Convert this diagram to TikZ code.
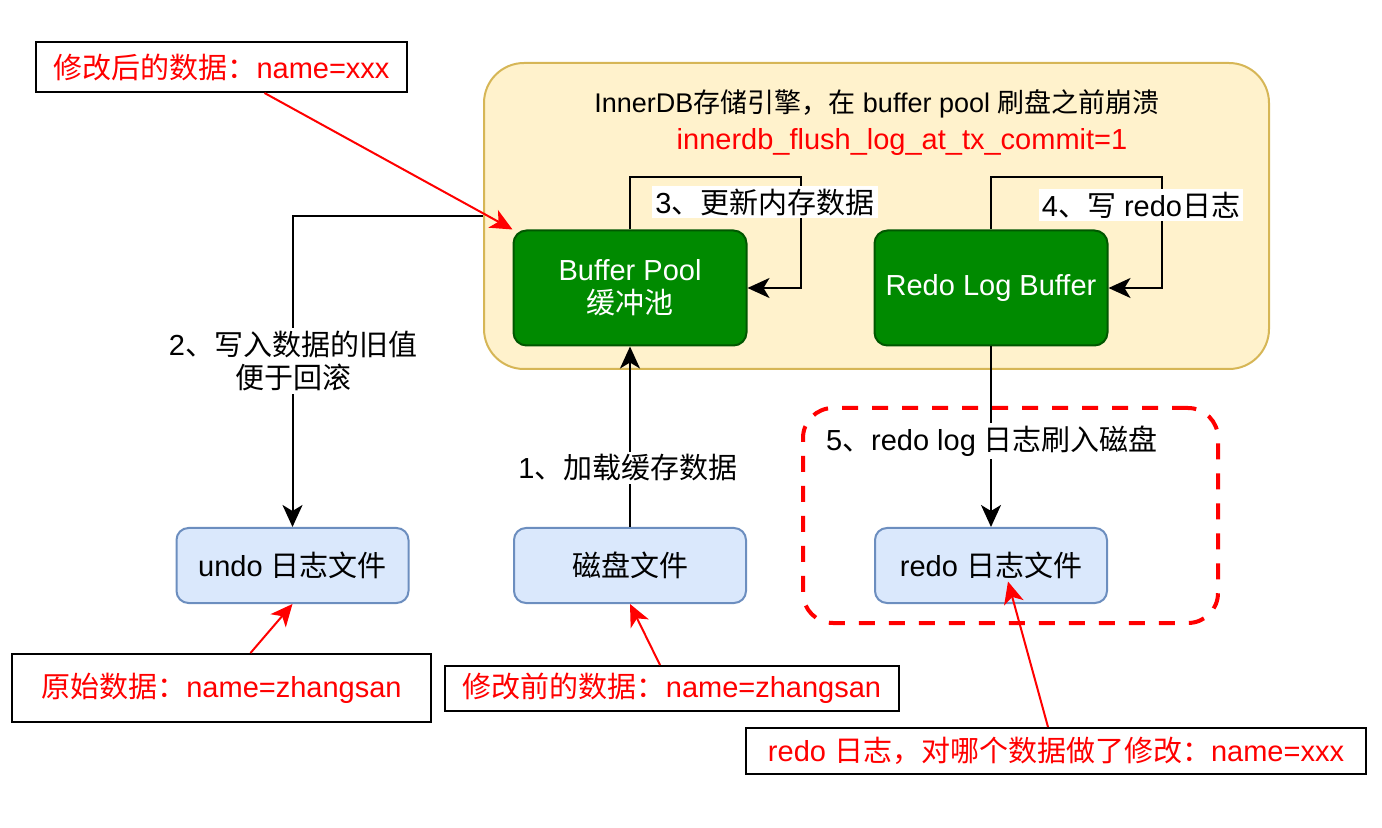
\documentclass[tikz,border=0pt]{standalone}
\usepackage{fontspec}
\setmainfont{Liberation Sans}
\newfontfamily\cjkfont{Noto Sans CJK SC}
\usetikzlibrary{arrows.meta,calc}

\definecolor{engfill}{RGB}{255,242,204}
\definecolor{engline}{RGB}{214,182,86}
\definecolor{memfill}{RGB}{0,138,0}
\definecolor{memline}{RGB}{0,87,0}
\definecolor{filefill}{RGB}{218,232,252}
\definecolor{fileline}{RGB}{108,142,191}

\newcommand{\zh}[1]{{\cjkfont #1}}
\newcommand{\txt}{\fontsize{14.5pt}{16.5pt}\selectfont}

\tikzset{
  engine/.style={draw=engline, fill=engfill, line width=1pt, rounded corners=20pt,
    minimum width=392.5pt, minimum height=153pt},
  membox/.style={draw=memline, fill=memfill, text=white, line width=1pt, rounded corners=6.5pt,
    minimum width=116.5pt, minimum height=57.5pt, align=center, font=\txt},
  filebox/.style={draw=fileline, fill=filefill, line width=1pt, rounded corners=6pt,
    minimum width=116pt, minimum height=37.5pt, font=\txt},
  note/.style={draw=black, fill=white, text=red, line width=1pt, font=\txt, inner sep=0pt},
  lbl/.style={fill=white, inner sep=1.5pt, align=center, font=\txt},
  redarrow/.style={red, line width=1pt},
  tip/.style={-{Stealth[length=11pt,width=10pt,inset=3pt]}},
}

\begin{document}
\begin{tikzpicture}[x=0.5pt,y=-0.5pt,line width=1pt]

\useasboundingbox (0,0) rectangle (1382,828);

\node[engine] (engine) at (876.5,216) {};
\node[font=\fontsize{13.5pt}{16pt}\selectfont] (title) at (877,104)
  {InnerDB\zh{存储引擎，在} buffer pool \zh{刷盘之前崩溃}};
\node[text=red, font=\txt] (flag) at (902,142) {innerdb\_flush\_log\_at\_tx\_commit=1};

\node[draw=red, line width=2pt, dash pattern=on 8pt off 7pt, rounded corners=15pt,
  minimum width=207.5pt, minimum height=107.5pt] (flushzone) at (1010.5,515.5) {};

\node[membox] (bp)  at (630,288)   {Buffer Pool\\\zh{缓冲池}};
\node[membox] (rlb) at (991,288)   {Redo Log Buffer};

\node[filebox] (undo) at (292.5,565.5) {undo \zh{日志文件}};
\node[filebox] (disk) at (630,565.5)   {\zh{磁盘文件}};
\node[filebox] (redo) at (991,565.5)   {redo \zh{日志文件}};

\coordinate (loopa) at (801,177);
\coordinate (loopb) at (1162,177);

\draw[tip] (disk) -- (bp);
\draw[tip] (engine.west) -| (undo.north);
\draw[tip] (bp.north) |- (loopa) |- (bp.east);
\draw[tip] (rlb.north) |- (loopb) |- (rlb.east);
\draw[tip] (rlb) -- (redo);

\node[lbl] (l1) at (628,468)  {1\zh{、加载缓存数据}};
\node[lbl] (l2) at (293,361)  {2\zh{、写入数据的旧值}\\\zh{便于回滚}};
\node[lbl] (l3) at (765,202)  {3\zh{、更新内存数据}};
\node[lbl] (l4) at (1141,205) {4\zh{、写} redo\zh{日志}};
\node[lbl] (l5) at (992,441)  {5\zh{、}redo log \zh{日志刷入磁盘}};

\node[note, minimum width=185.5pt, minimum height=25pt] (ann1) at (221.5,67)
  {\zh{修改后的数据：}name=xxx};
\node[note, minimum width=209.5pt, minimum height=34pt] (ann2) at (221.5,688)
  {\zh{原始数据：}name=zhangsan};
\node[note, minimum width=227pt, minimum height=22.5pt] (ann3) at (672,688.5)
  {\zh{修改前的数据：}name=zhangsan};
\node[note, minimum width=310pt, minimum height=23pt] (ann4) at (1056,751)
  {redo \zh{日志，对哪个数据做了修改：}name=xxx};

\draw[tip,redarrow] ($(ann1.south)+(43,0)$) -- (bp.north west);
\draw[tip,redarrow] ($(ann2.north)+(29,0)$) -- (undo.south);
\draw[tip,redarrow] ($(ann3.north)+(-12,0)$) -- (disk.south);
\draw[tip,redarrow] ($(ann4.north)+(-8,0)$) -- ($(redo.center)+(17,16)$);

\end{tikzpicture}
\end{document}
